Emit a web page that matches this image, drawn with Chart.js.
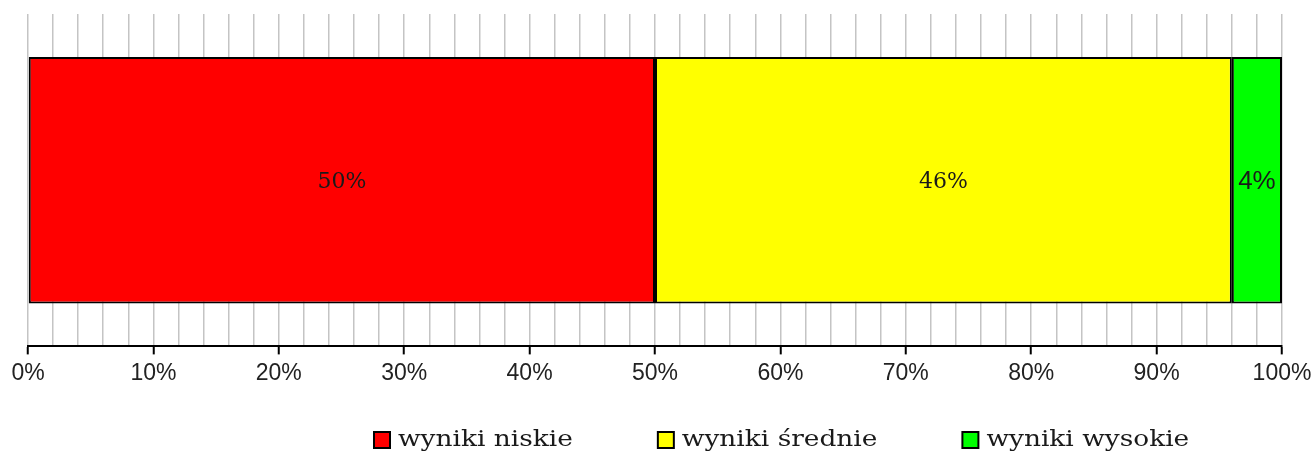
<!DOCTYPE html>
<html>
<head>
<meta charset="utf-8">
<script src="https://cdn.jsdelivr.net/npm/chart.js@4"></script>
<style>
  html, body { margin: 0; padding: 0; background: #fff; }
  #wrap { width: 1314px; height: 453px; }
</style>
</head>
<body>
<div id="wrap"><canvas id="wykres"></canvas></div>
<script>
const kategorie = [''];
const serie = ['wyniki niskie', 'wyniki średnie', 'wyniki wysokie'];
const wartosci = [50, 46, 4];
const kolory = ['#ff0000', '#ffff00', '#00ff00'];

const serif = '"DejaVu Serif", serif';
const sans = '"Liberation Sans", Arial, sans-serif';

// podpisy wartosci na slupkach
const etykiety = {
  id: 'etykiety',
  afterDatasetsDraw(chart) {
    const ctx = chart.ctx;
    ctx.save();
    ctx.textAlign = 'center';
    ctx.textBaseline = 'middle';
    ctx.fillStyle = '#1a1a1a';
    chart.data.datasets.forEach((ds, i) => {
      const el = chart.getDatasetMeta(i).data[0];
      const x = (el.x + el.base) / 2;
      ctx.font = i === 2 ? '26px ' + sans : '22px ' + serif;
      ctx.fillText(ds.data[0] + '%', x, el.y + 2);
    });
    ctx.restore();
  }
};

// legenda rysowana recznie
const legenda = {
  id: 'legenda',
  afterDraw(chart) {
    const ctx = chart.ctx;
    const sx = 1.2;
    ctx.save();
    ctx.font = '22px ' + serif;
    ctx.textBaseline = 'middle';
    let x = 374;
    const y = 440;
    chart.data.datasets.forEach(ds => {
      ctx.fillStyle = ds.backgroundColor;
      ctx.fillRect(x, y - 8, 16, 16);
      ctx.lineWidth = 2;
      ctx.strokeStyle = '#000';
      ctx.strokeRect(x, y - 8, 16, 16);
      ctx.fillStyle = '#1a1a1a';
      ctx.textAlign = 'left';
      ctx.save();
      ctx.translate(x + 24, y);
      ctx.scale(sx, 1);
      ctx.fillText(ds.label, 0, 0);
      ctx.restore();
      x += 24 + ctx.measureText(ds.label).width * sx + 85;
    });
    ctx.restore();
  }
};

new Chart(document.getElementById('wykres'), {
  type: 'bar',
  data: {
    labels: kategorie,
    datasets: serie.map((s, i) => ({
      label: s,
      data: [wartosci[i]],
      backgroundColor: kolory[i],
      borderColor: '#000',
      borderWidth: 2,
      borderSkipped: false,
      barPercentage: 0.742,
      categoryPercentage: 1
    }))
  },
  options: {
    indexAxis: 'y',
    responsive: true,
    maintainAspectRatio: false,
    animation: false,
    layout: { padding: { top: 14, left: 28, right: 32, bottom: 61 } },
    plugins: { legend: { display: false }, tooltip: { enabled: false } },
    scales: {
      x: {
        stacked: true,
        min: 0,
        max: 100,
        afterFit: s => { s.paddingLeft = 0; s.paddingRight = 0; },
        ticks: {
          stepSize: 2,
          autoSkip: false,
          maxRotation: 0,
          padding: 5,
          color: '#222',
          font: { family: sans, size: 23 },
          callback: v => v % 10 === 0 ? v + '%' : ''
        },
        grid: {
          color: '#c4c4c4',
          lineWidth: 1.5,
          tickLength: 8,
          tickWidth: 2,
          tickColor: c => c.tick && c.tick.value % 10 === 0 ? '#000' : 'rgba(0,0,0,0)'
        },
        border: { color: '#000', width: 2 }
      },
      y: {
        stacked: true,
        display: false
      }
    }
  },
  plugins: [etykiety, legenda]
});
</script>
</body>
</html>
